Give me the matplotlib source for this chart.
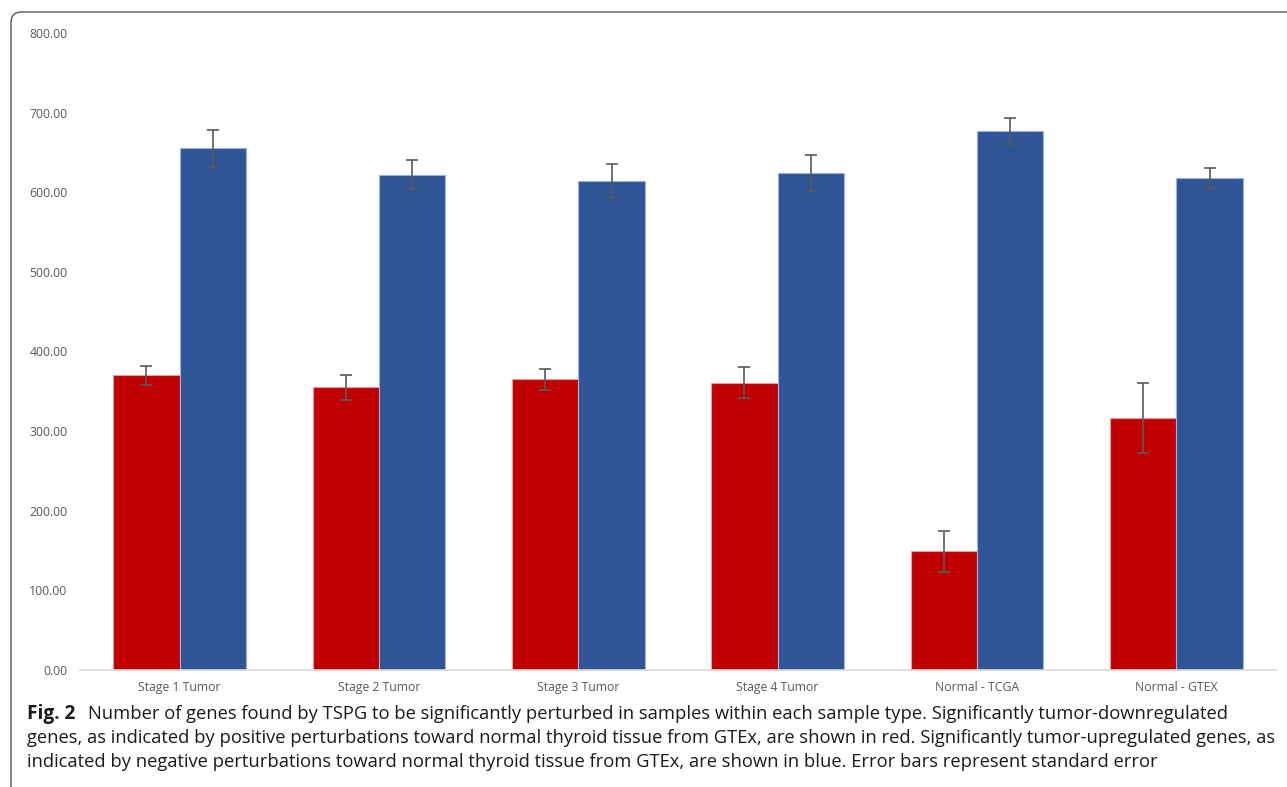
import matplotlib.pyplot as plt
from matplotlib.patches import FancyBboxPatch
import numpy as np

categories = ['Stage 1 Tumor', 'Stage 2 Tumor', 'Stage 3 Tumor', 'Stage 4 Tumor',
              'Normal - TCGA', 'Normal - GTEX']
down_vals = [370, 355, 365, 361, 149, 316]
down_err = [12, 16, 13, 20, 26, 44]
up_vals = [655, 622, 614, 624, 677, 618]
up_err = [23, 18, 21, 23, 16, 13]

W, H = 1287, 787
fig = plt.figure(figsize=(W / 100, H / 100), dpi=100)
ax = fig.add_axes([80 / W, 1 - 670 / H, (1276 - 80) / W, (670 - 33) / H])

x = np.arange(len(categories))
bw = 0.333
ekw = dict(ecolor='#595959', elinewidth=1.2, capsize=4, capthick=1.2)
ax.bar(x - bw / 2, down_vals, bw, color='#C00000', edgecolor='#E6A0A0', linewidth=0.8,
       yerr=down_err, error_kw=ekw)
ax.bar(x + bw / 2, up_vals, bw, color='#2F5597', edgecolor='#9DB3DA', linewidth=0.8,
       yerr=up_err, error_kw=ekw)

ax.set_xlim(-0.5, len(categories) - 0.5)
ax.set_ylim(0, 800)
ax.set_yticks(np.arange(0, 801, 100))
ax.set_yticklabels([f'{v:.2f}' for v in np.arange(0, 801, 100)])
ax.set_xticks(x)
ax.set_xticklabels(categories)
ax.tick_params(axis='both', length=0, labelsize=8.8, labelcolor='#595959')
ax.tick_params(axis='y', pad=9)
ax.tick_params(axis='x', pad=8)
for lab in ax.get_xticklabels() + ax.get_yticklabels():
    lab.set_fontfamily('Open Sans')
for s in ['top', 'right', 'left']:
    ax.spines[s].set_visible(False)
ax.spines['bottom'].set_color('#D9D9D9')
ax.spines['bottom'].set_linewidth(1.2)

# frame around figure (rounded top-left corner)
frame = FancyBboxPatch((11 / W, -0.05), 1.2, 1 - 12 / H + 0.05,
                       boxstyle='round,pad=0,rounding_size=0.008',
                       transform=fig.transFigure, fill=False,
                       edgecolor='#555555', linewidth=1.0, mutation_aspect=W / H)
fig.patches.append(frame)

# caption
cap_lines = [
    'Number of genes found by TSPG to be significantly perturbed in samples within each sample type. Significantly tumor-downregulated',
    'genes, as indicated by positive perturbations toward normal thyroid tissue from GTEx, are shown in red. Significantly tumor-upregulated genes, as',
    'indicated by negative perturbations toward normal thyroid tissue from GTEx, are shown in blue. Error bars represent standard error',
]
fs = 13.2
fig.text(27 / W, 1 - 714 / H, 'Fig. 2', fontsize=fs + 0.5, fontweight='bold', family='Open Sans',
         va='center', ha='left', color='#1a1a1a')
fig.text(88 / W, 1 - 714 / H, cap_lines[0], fontsize=fs, family='Open Sans',
         va='center', ha='left', color='#1a1a1a')
fig.text(27 / W, 1 - 738 / H, cap_lines[1], fontsize=fs, family='Open Sans',
         va='center', ha='left', color='#1a1a1a')
fig.text(27 / W, 1 - 762 / H, cap_lines[2], fontsize=fs, family='Open Sans',
         va='center', ha='left', color='#1a1a1a')

fig.savefig('out.png', dpi=100)
